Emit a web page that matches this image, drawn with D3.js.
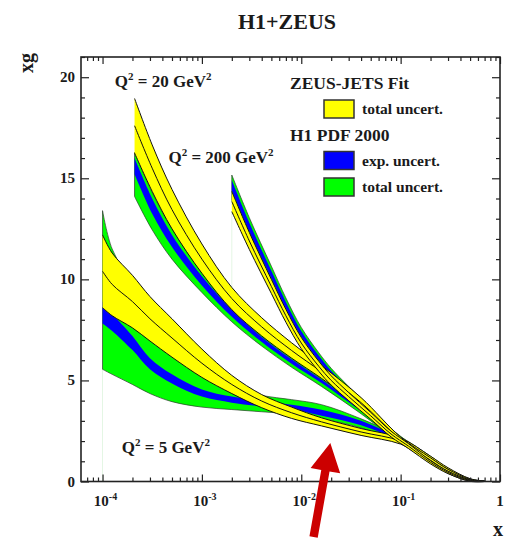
<!DOCTYPE html>
<html>
<head>
<meta charset="utf-8">
<script src="https://cdn.jsdelivr.net/npm/d3@7"></script>
<style>
  body { margin: 0; background: #fff; }
  svg { display: block; }
  text { font-family: "Liberation Serif", "Times New Roman", serif; font-weight: bold; fill: #1a1a1a; }
</style>
</head>
<body>
<svg id="chart" width="508" height="548"></svg>
<script>
// ---- gluon density xg(x) at three Q^2 values ----
// Q^2 = 5 GeV^2
const q5X        = [1e-4, 1.25e-4, 2e-4, 3e-4, 5e-4, 1e-3, 2e-3, 4e-3, 8e-3, 1.6e-2, 4e-2, 0.1, 0.2, 0.3, 0.5, 0.7];
const q5ZeusLow  = [8.6, 8.2, 7.6, 6.95, 6.15, 5.15, 4.35, 3.65, 3.12, 2.75, 2.28, 1.85, 1.05, 0.52, 0.06, 0.0];
const q5ZeusMid  = [10.4, 9.75, 8.9, 8.05, 7.1, 5.85, 4.8, 3.98, 3.4, 2.95, 2.45, 2.0, 1.15, 0.6, 0.1, 0.01];
const q5ZeusHigh = [12.2, 11.3, 10.2, 9.15, 8.05, 6.55, 5.25, 4.3, 3.68, 3.15, 2.62, 2.15, 1.25, 0.68, 0.14, 0.02];
const q5H1TotLow = [5.55, 5.3, 4.8, 4.35, 3.95, 3.68, 3.56, 3.45, 3.33, 3.1, 2.65, 1.9, 1.05, 0.5, 0.06, 0.0];
const q5H1ExpLow = [7.82, 7.45, 6.5, 5.55, 4.85, 4.2, 3.9, 3.72, 3.56, 3.25, 2.78, 1.98, 1.1, 0.55, 0.08, 0.005];
const q5H1ExpHigh= [8.9, 8.3, 7.2, 6.1, 5.3, 4.55, 4.2, 3.97, 3.8, 3.55, 3.0, 2.1, 1.18, 0.6, 0.11, 0.012];
const q5H1TotHigh= [13.4, 11.5, 9.8, 8.6, 7.5, 6.0, 4.6, 4.25, 4.05, 3.8, 3.1, 2.2, 1.25, 0.65, 0.13, 0.02];

// Q^2 = 20 GeV^2
const q20X        = [2.1e-4, 3.16e-4, 5e-4, 1e-3, 2e-3, 4e-3, 8e-3, 1.6e-2, 4e-2, 0.1, 0.2, 0.3, 0.5, 0.7];
const q20ZeusLow  = [16.25, 14.35, 12.5, 10.3, 8.5, 7.2, 6.1, 5.1, 3.65, 1.95, 0.93, 0.4, 0.01, 0.0];
const q20ZeusMid  = [17.6, 15.5, 13.45, 11.0, 9.05, 7.65, 6.48, 5.42, 3.9, 2.07, 1.05, 0.5, 0.06, 0.01];
const q20ZeusHigh = [18.95, 16.65, 14.45, 11.75, 9.6, 8.1, 6.86, 5.74, 4.15, 2.2, 1.17, 0.6, 0.11, 0.02];
const q20H1TotLow = [14.1, 12.45, 11.0, 9.35, 7.9, 6.7, 5.65, 4.7, 3.35, 1.9, 0.95, 0.45, 0.04, 0.0];
const q20H1ExpLow = [15.2, 13.25, 11.6, 9.7, 8.15, 6.9, 5.83, 4.87, 3.47, 1.95, 0.98, 0.47, 0.05, 0.0];
const q20H1ExpHigh= [16.0, 14.0, 12.2, 10.15, 8.5, 7.15, 6.05, 5.05, 3.6, 2.0, 1.02, 0.5, 0.06, 0.01];
const q20H1TotHigh= [16.3, 14.3, 12.5, 10.35, 8.65, 7.3, 6.17, 5.15, 3.7, 2.05, 1.05, 0.52, 0.07, 0.01];

// Q^2 = 200 GeV^2
const q200X        = [2e-3, 3e-3, 5e-3, 7e-3, 1e-2, 1.5e-2, 2e-2, 3e-2, 5e-2, 0.08, 0.12, 0.2, 0.3, 0.5, 0.7];
const q200ZeusLow  = [13.35, 11.48, 9.3, 7.88, 6.57, 5.45, 4.77, 4.0, 3.08, 2.21, 1.63, 0.87, 0.39, 0.02, 0.0];
const q200ZeusMid  = [13.85, 11.9, 9.65, 8.2, 6.85, 5.7, 5.0, 4.2, 3.25, 2.35, 1.75, 0.95, 0.45, 0.05, 0.005];
const q200ZeusHigh = [14.35, 12.32, 10.0, 8.52, 7.13, 5.95, 5.23, 4.4, 3.42, 2.49, 1.87, 1.03, 0.51, 0.08, 0.01];
const q200H1TotLow = [13.9, 11.9, 9.7, 8.25, 6.9, 5.75, 5.05, 4.25, 3.3, 2.37, 1.76, 0.96, 0.46, 0.06, 0.005];
const q200H1ExpLow = [14.4, 12.35, 10.05, 8.55, 7.16, 5.98, 5.26, 4.42, 3.44, 2.48, 1.84, 1.0, 0.49, 0.07, 0.006];
const q200H1ExpHigh= [14.9, 12.8, 10.42, 8.88, 7.45, 6.23, 5.48, 4.6, 3.56, 2.56, 1.9, 1.04, 0.52, 0.08, 0.008];
const q200H1TotHigh= [15.16, 13.05, 10.65, 9.08, 7.62, 6.37, 5.6, 4.7, 3.64, 2.62, 1.94, 1.07, 0.54, 0.09, 0.01];

// ---- axes ----
const xDecades   = [1e-4, 1e-3, 1e-2, 1e-1, 1];
const xDecadeExp = ["-4", "-3", "-2", "-1", ""];
const yMajor     = [0, 5, 10, 15, 20];

// ---- labels ----
const title = "H1+ZEUS";
const curveLabels = [
  { q2: "20",  x: 1.33e-4, y: 19.5 },
  { q2: "200", x: 4.6e-4,  y: 15.75 },
  { q2: "5",   x: 1.56e-4, y: 1.4 }
];
const legendGroups = [
  { head: "ZEUS-JETS Fit", items: [{ fill: "#ffff00", text: "total uncert." }] },
  { head: "H1 PDF 2000",   items: [{ fill: "#0000ff", text: "exp. uncert." }, { fill: "#00ff00", text: "total uncert." }] }
];
// arrow annotation, in data coordinates: tail then tip
const arrowTail = { x: 0.0133, y: -2.75 };
const arrowTip  = { x: 0.0196, y: 1.9 };

const svg = d3.select("#chart");
const X = d3.scaleLog().domain([6.07e-5, 1]).range([81, 500]);
const Y = d3.scaleLinear().domain([0, 21]).range([481.5, 57]);
const smooth = d3.curveCatmullRom.alpha(0.5);

const areaGen = (xs, lo, hi) => d3.area()
  .x((d, i) => X(xs[i])).y0((d, i) => Y(lo[i])).y1((d, i) => Y(hi[i]))
  .curve(smooth)(xs);
const lineGen = (xs, v) => d3.line()
  .x((d, i) => X(xs[i])).y((d, i) => Y(v[i]))
  .curve(smooth)(xs);

const sets = [
  { xs: q5X,   zl: q5ZeusLow,   zm: q5ZeusMid,   zh: q5ZeusHigh,   tl: q5H1TotLow,   el: q5H1ExpLow,   eh: q5H1ExpHigh,   th: q5H1TotHigh },
  { xs: q20X,  zl: q20ZeusLow,  zm: q20ZeusMid,  zh: q20ZeusHigh,  tl: q20H1TotLow,  el: q20H1ExpLow,  eh: q20H1ExpHigh,  th: q20H1TotHigh },
  { xs: q200X, zl: q200ZeusLow, zm: q200ZeusMid, zh: q200ZeusHigh, tl: q200H1TotLow, el: q200H1ExpLow, eh: q200H1ExpHigh, th: q200H1TotHigh }
];

const plot = svg.append("g");

// faint fill seams at the left end of two bands
plot.append("line").attr("x1", X(q5X[0])).attr("x2", X(q5X[0]))
  .attr("y1", Y(q5H1TotLow[0])).attr("y2", Y(0))
  .attr("stroke", "#e4f6e4").attr("stroke-width", 1);
plot.append("line").attr("x1", X(q200X[0])).attr("x2", X(q200X[0]))
  .attr("y1", Y(q200ZeusLow[0])).attr("y2", Y(9.4))
  .attr("stroke", "#e4f6e4").attr("stroke-width", 1);

// H1 PDF 2000 bands
sets.forEach(s => {
  plot.append("path").attr("d", areaGen(s.xs, s.tl, s.th))
    .attr("fill", "#00ff00").attr("stroke", "#2a3a2a").attr("stroke-width", 0.7);
  plot.append("path").attr("d", areaGen(s.xs, s.el, s.eh))
    .attr("fill", "#0000ff");
});

// ZEUS-JETS bands with edge and central lines
sets.forEach(s => {
  plot.append("path").attr("d", areaGen(s.xs, s.zl, s.zh)).attr("fill", "#ffff00");
  [s.zl, s.zm, s.zh].forEach(v => {
    plot.append("path").attr("d", lineGen(s.xs, v))
      .attr("fill", "none").attr("stroke", "#111").attr("stroke-width", 1);
  });
});

// ---- frame and ticks ----
const xMinor = [];
for (let k = -5; k <= -1; k++) for (let m = 2; m <= 9; m++) {
  const v = m * Math.pow(10, k);
  if (v > X.domain()[0] && v < 1) xMinor.push(v);
}
const yMinor = d3.range(0, 22).filter(v => v % 5 !== 0);

function ticks(axis, vals, size, transform) {
  const g = svg.append("g").attr("transform", transform)
    .call(axis.tickValues(vals).tickSize(size).tickFormat(""));
  g.select(".domain").remove();
  g.selectAll("line").attr("stroke", "#222").attr("stroke-width", 1.2);
}
ticks(d3.axisBottom(X), xDecades, -7, `translate(0,${Y(0)})`);
ticks(d3.axisBottom(X), xMinor, -4, `translate(0,${Y(0)})`);
ticks(d3.axisTop(X), xDecades, -7, `translate(0,57)`);
ticks(d3.axisTop(X), xMinor, -4, `translate(0,57)`);
ticks(d3.axisLeft(Y), yMajor, -8, `translate(81,0)`);
ticks(d3.axisLeft(Y), yMinor, -4, `translate(81,0)`);
ticks(d3.axisRight(Y), yMajor, -8, `translate(500,0)`);
ticks(d3.axisRight(Y), yMinor, -4, `translate(500,0)`);

svg.append("rect").attr("x", 81).attr("y", 57).attr("width", 419).attr("height", Y(0) - 57)
  .attr("fill", "none").attr("stroke", "#222").attr("stroke-width", 1.6);

// tick labels
xDecades.forEach((v, i) => {
  const t = svg.append("text").attr("x", X(v) + (xDecadeExp[i] ? 3 : 0)).attr("y", 506)
    .attr("text-anchor", "middle").style("font-size", "15px");
  if (xDecadeExp[i]) {
    t.append("tspan").text("10");
    t.append("tspan").attr("dy", -6).style("font-size", "10px").text(xDecadeExp[i]);
  } else {
    t.text("1");
  }
});
yMajor.forEach(v => {
  svg.append("text").attr("x", 75).attr("y", Y(v) + 5).attr("text-anchor", "end")
    .style("font-size", "15px").text(v);
});

// axis titles and chart title
svg.append("text").attr("x", 498).attr("y", 536).attr("text-anchor", "middle")
  .style("font-size", "20px").text("x");
svg.append("text").attr("transform", "translate(33,63) rotate(-90)").attr("text-anchor", "middle")
  .style("font-size", "20px").text("xg");
svg.append("text").attr("x", 287).attr("y", 29).attr("text-anchor", "middle")
  .style("font-size", "22px").text(title);

// Q^2 labels
curveLabels.forEach(c => {
  const t = svg.append("text").attr("x", X(c.x)).attr("y", Y(c.y)).style("font-size", "17px");
  t.append("tspan").text("Q");
  t.append("tspan").attr("dy", -7).style("font-size", "11px").text("2");
  t.append("tspan").attr("dy", 7).text(" = " + c.q2 + " GeV");
  t.append("tspan").attr("dy", -7).style("font-size", "11px").text("2");
});

// legend
let ly = 89;
legendGroups.forEach(g => {
  svg.append("text").attr("x", 290).attr("y", ly).style("font-size", "17.5px").text(g.head);
  ly += 11;
  g.items.forEach(it => {
    svg.append("rect").attr("x", 324).attr("y", ly).attr("width", 30).attr("height", 18)
      .attr("fill", it.fill).attr("stroke", "#333").attr("stroke-width", 1.5);
    svg.append("text").attr("x", 362).attr("y", ly + 14).style("font-size", "15.5px").text(it.text);
    ly += 26.5;
  });
  ly += 14;
});

// red arrow
(function () {
  const x0 = X(arrowTail.x), y0 = Y(arrowTail.y), x1 = X(arrowTip.x), y1 = Y(arrowTip.y);
  const len = Math.hypot(x1 - x0, y1 - y0);
  const ux = (x1 - x0) / len, uy = (y1 - y0) / len, nx = -uy, ny = ux;
  const shaft = 4.2, head = 15, headLen = 28;
  const bx = x1 - ux * headLen, by = y1 - uy * headLen;
  const pts = [
    [x0 + nx * shaft, y0 + ny * shaft], [bx + nx * shaft, by + ny * shaft], [bx + nx * head, by + ny * head],
    [x1, y1],
    [bx - nx * head, by - ny * head], [bx - nx * shaft, by - ny * shaft], [x0 - nx * shaft, y0 - ny * shaft]
  ];
  svg.append("path").attr("d", d3.line()(pts) + "Z").attr("fill", "#cc0000");
})();
</script>
</body>
</html>
